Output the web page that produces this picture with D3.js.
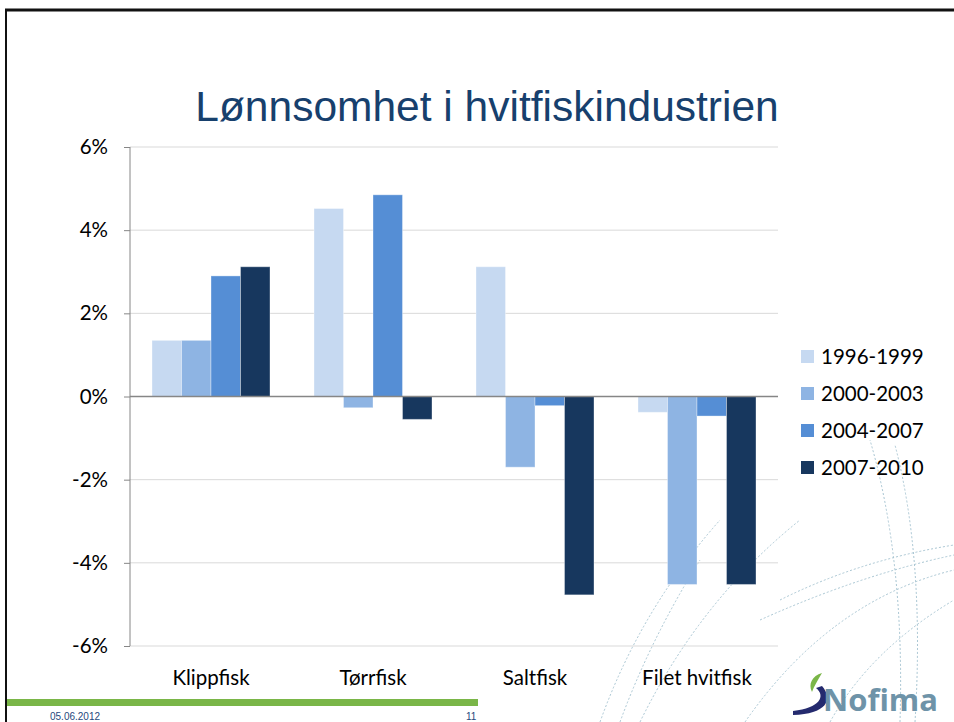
<!DOCTYPE html>
<meta charset="utf-8">
<style>
body { margin: 0; background: #fff; }
text { font-family: Lato, "Open Sans", sans-serif; }
.grid line { stroke: #d9d9d9; }
.deco path { fill: none; stroke: #a9c6d3; stroke-width: 1; stroke-dasharray: 2,2; }
</style>
<svg width="954" height="722"></svg>
<script src="https://d3js.org/d3.v7.min.js"></script>
<script>

// data
var categories = ["Klippfisk", "Tørrfisk", "Saltfisk", "Filet hvitfisk"];
var periods = ["1996-1999", "2000-2003", "2004-2007", "2007-2010"];
var s1996 = [1.35, 4.52, 3.12, -0.38];
var s2000 = [1.35, -0.27, -1.70, -4.52];
var s2004 = [2.90, 4.85, -0.22, -0.47];
var s2007 = [3.12, -0.55, -4.77, -4.52];
var yTicks = [-6, -4, -2, 0, 2, 4, 6];
var colors = ["#c6d9f1", "#8eb4e3", "#558ed5", "#17375e"];

var series = [s1996, s2000, s2004, s2007];

var svg = d3.select("svg");

// decorative dotted curves behind everything
var deco = svg.append("g").attr("class", "deco");
[
  "M600,722 Q640,610 720,520",
  "M620,722 Q650,640 700,560",
  "M640,722 Q700,600 800,520",
  "M760,620 Q860,575 954,555",
  "M780,600 Q860,560 954,545",
  "M745,722 Q830,600 954,570",
  "M900,722 Q905,560 870,440",
  "M915,722 Q925,560 895,445",
  "M830,722 Q870,650 954,600"
].forEach(function(d) { deco.append("path").attr("d", d); });

// slide frame
svg.append("line").attr("x1", 5).attr("x2", 954).attr("y1", 10).attr("y2", 10)
  .attr("stroke", "#111").attr("stroke-width", 3);
svg.append("line").attr("x1", 6).attr("x2", 6).attr("y1", 9).attr("y2", 722)
  .attr("stroke", "#111").attr("stroke-width", 2);

// title
svg.append("text")
  .attr("x", 487).attr("y", 121)
  .attr("text-anchor", "middle")
  .style("font-family", "'Liberation Sans', Arial, sans-serif")
  .style("font-size", "42.5px")
  .attr("fill", "#17406d")
  .text("Lønnsomhet i hvitfiskindustrien");

var plotLeft = 130, plotRight = 778, plotTop = 147, plotBottom = 646;

var y = d3.scaleLinear().domain([-6, 6]).range([plotBottom, plotTop]);
var x0 = d3.scaleBand().domain(categories).range([plotLeft, plotRight]);
var x1 = d3.scaleBand().domain(d3.range(periods.length))
  .range([22, x0.bandwidth() - 22]);

// gridlines
svg.append("g").attr("class", "grid")
  .selectAll("line")
  .data(yTicks.filter(function(t) { return t !== 0; }))
  .enter().append("line")
  .attr("x1", plotLeft).attr("x2", plotRight)
  .attr("y1", function(d) { return y(d); })
  .attr("y2", function(d) { return y(d); });

// bars
var groups = svg.selectAll(".cat")
  .data(categories)
  .enter().append("g")
  .attr("class", "cat")
  .attr("transform", function(d) { return "translate(" + x0(d) + ",0)"; });

groups.selectAll("rect")
  .data(function(d, i) {
    return series.map(function(s, j) { return { k: j, v: s[i] }; });
  })
  .enter().append("rect")
  .attr("x", function(d) { return x1(d.k); })
  .attr("width", x1.bandwidth())
  .attr("y", function(d) { return y(Math.max(0, d.v)); })
  .attr("height", function(d) { return Math.abs(y(d.v) - y(0)); })
  .attr("fill", function(d) { return colors[d.k]; })
  .attr("stroke", "rgba(255,255,255,0.35)")
  .attr("stroke-width", 1);

// zero line
svg.append("line")
  .attr("x1", plotLeft).attr("x2", plotRight)
  .attr("y1", y(0)).attr("y2", y(0))
  .attr("stroke", "#868686").attr("stroke-width", 1.5);

// y axis
var yAxis = svg.append("g")
  .attr("transform", "translate(" + plotLeft + ",0)")
  .call(d3.axisLeft(y).tickValues(yTicks).tickSize(6).tickPadding(16)
    .tickFormat(function(d) { return d + "%"; }));
yAxis.select(".domain").attr("stroke", "#868686").attr("d", "M0," + plotTop + "V" + plotBottom);
yAxis.selectAll(".tick line").attr("stroke", "#868686");
yAxis.selectAll("text")
  .style("font-family", "Lato, sans-serif")
  .style("font-size", "20.5px")
  .attr("fill", "#000");

// category labels
svg.selectAll(".catlabel")
  .data(categories)
  .enter().append("text")
  .attr("class", "catlabel")
  .attr("x", function(d) { return x0(d) + x0.bandwidth() / 2; })
  .attr("y", 685)
  .attr("text-anchor", "middle")
  .style("font-size", "20.5px")
  .attr("fill", "#000")
  .text(function(d) { return d; });

// legend
var legend = svg.selectAll(".legend")
  .data(periods)
  .enter().append("g")
  .attr("class", "legend")
  .attr("transform", function(d, i) { return "translate(801," + (350 + i * 37) + ")"; });
legend.append("rect").attr("width", 13).attr("height", 13)
  .attr("fill", function(d, i) { return colors[i]; });
legend.append("text").attr("x", 20).attr("y", 14)
  .style("font-size", "20.5px")
  .attr("fill", "#000")
  .text(function(d) { return d; });

// footer
svg.append("rect").attr("x", 7).attr("y", 699).attr("width", 471).attr("height", 7)
  .attr("fill", "#7ab648");
svg.append("text").attr("x", 50).attr("y", 720)
  .style("font-family", "'Liberation Sans', Arial, sans-serif")
  .style("font-size", "10px").attr("fill", "#1f497d").text("05.06.2012");
svg.append("text").attr("x", 466).attr("y", 720)
  .style("font-family", "'Liberation Sans', Arial, sans-serif")
  .style("font-size", "10px").attr("fill", "#1f497d").text("11");

// Nofima logo
var logo = svg.append("g");
logo.append("path")
  .attr("d", "M822,673 C812,676 808,684 812,692 C814,686 818,680 822,673 Z")
  .attr("fill", "#7ab648");
logo.append("path")
  .attr("d", "M816,688 C826,696 820,708 793,711 L793,715 C826,714 834,700 822,686 Z")
  .attr("fill", "#242a6e");
logo.append("text").attr("x", 823).attr("y", 711)
  .style("font-family", "'Open Sans', sans-serif")
  .style("font-size", "31px").style("font-weight", "bold")
  .attr("fill", "#6e93a8").text("Nofima");

</script>
